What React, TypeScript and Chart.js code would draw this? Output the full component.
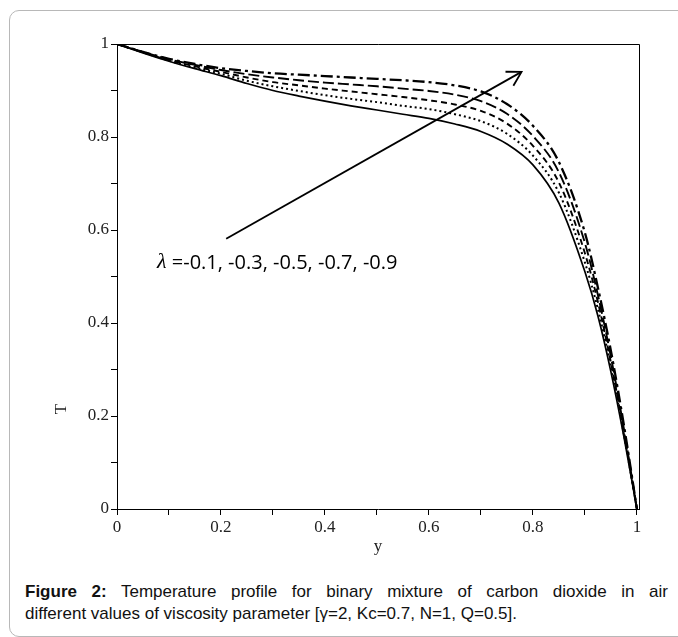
import React, { useEffect, useRef } from "react";
import { Chart, registerables } from "chart.js";

Chart.register(...registerables);

// Position along channel (y) and temperature profiles T for each λ
const yValues = [0, 0.05, 0.1, 0.15, 0.2, 0.25, 0.3, 0.35, 0.4, 0.45, 0.5, 0.55, 0.6, 0.65, 0.7, 0.75, 0.8, 0.85, 0.9, 0.925, 0.95, 0.975, 1];
const lambdaLabels = ["λ=-0.1", "λ=-0.3", "λ=-0.5", "λ=-0.7", "λ=-0.9"];
const tLambda01 = [1, 0.981, 0.963, 0.947, 0.932, 0.915, 0.9, 0.888, 0.877, 0.867, 0.858, 0.849, 0.84, 0.828, 0.812, 0.785, 0.74, 0.658, 0.51, 0.415, 0.295, 0.155, 0];
const tLambda03 = [1, 0.982, 0.964, 0.949, 0.936, 0.921, 0.909, 0.899, 0.89, 0.882, 0.875, 0.867, 0.86, 0.849, 0.834, 0.807, 0.76, 0.68, 0.53, 0.43, 0.305, 0.16, 0];
const tLambda05 = [1, 0.982, 0.965, 0.952, 0.94, 0.928, 0.918, 0.911, 0.904, 0.898, 0.892, 0.886, 0.879, 0.87, 0.856, 0.829, 0.781, 0.702, 0.55, 0.445, 0.315, 0.165, 0];
const tLambda07 = [1, 0.983, 0.967, 0.955, 0.944, 0.935, 0.928, 0.922, 0.917, 0.913, 0.909, 0.904, 0.899, 0.891, 0.877, 0.85, 0.802, 0.724, 0.572, 0.46, 0.327, 0.172, 0];
const tLambda09 = [1, 0.983, 0.968, 0.957, 0.948, 0.942, 0.937, 0.934, 0.931, 0.928, 0.925, 0.922, 0.918, 0.911, 0.898, 0.871, 0.824, 0.746, 0.594, 0.476, 0.34, 0.18, 0];

const xTickValues = [0, 0.1, 0.2, 0.3, 0.4, 0.5, 0.6, 0.7, 0.8, 0.9, 1];
const xTickLabels = ["0", "", "0.2", "", "0.4", "", "0.6", "", "0.8", "", "1"];
const yTickValues = [0, 0.1, 0.2, 0.3, 0.4, 0.5, 0.6, 0.7, 0.8, 0.9, 1];
const yTickLabels = ["0", "", "0.2", "", "0.4", "", "0.6", "", "0.8", "", "1"];

const xTitle = "y";
const yTitle = "T";
const annotationLambda = "λ";
const annotationText = " =-0.1, -0.3, -0.5, -0.7, -0.9";
const arrowFrom = [0.21, 0.581];
const arrowTo = [0.778, 0.94];
const annotationAt = [0.077, 0.531];
const yTitleAt = 0.215;

const captionBold = "Figure 2:";
const captionLine1 = " Temperature profile for binary mixture of carbon dioxide in air";
const captionLine2 = "different values of viscosity parameter [γ=2, Kc=0.7, N=1, Q=0.5].";

const seriesValues = [tLambda01, tLambda03, tLambda05, tLambda07, tLambda09];
const seriesDash = [[], [2, 3], [6, 4], [11, 4], [12, 4, 3, 4]];
const seriesWidth = [1.7, 2, 1.9, 1.9, 2.3];

const TICK_FONT = { family: "'Liberation Serif', 'Times New Roman', serif", size: 17 };
const TEXT_COLOR = "#222";

const overlayPlugin = {
  id: "overlay",
  afterDraw(chart: any) {
    const { ctx, chartArea, scales } = chart;
    const xs = scales.x;
    const ys = scales.y;
    ctx.save();
    // frame top & right
    ctx.strokeStyle = "#000";
    ctx.lineWidth = 1;
    ctx.beginPath();
    ctx.moveTo(chartArea.left, chartArea.top + 0.5);
    ctx.lineTo(chartArea.right + 0.5, chartArea.top + 0.5);
    ctx.lineTo(chartArea.right + 0.5, chartArea.bottom);
    ctx.stroke();

    // arrow
    const x1 = xs.getPixelForValue(arrowFrom[0]);
    const y1 = ys.getPixelForValue(arrowFrom[1]);
    const x2 = xs.getPixelForValue(arrowTo[0]);
    const y2 = ys.getPixelForValue(arrowTo[1]);
    ctx.lineWidth = 1.8;
    ctx.beginPath();
    ctx.moveTo(x1, y1);
    ctx.lineTo(x2, y2);
    ctx.stroke();
    const ang = Math.atan2(y1 - y2, x1 - x2);
    const len = 16;
    ctx.beginPath();
    ctx.moveTo(x2 + len * Math.cos(ang + Math.PI / 6), y2 + len * Math.sin(ang + Math.PI / 6));
    ctx.lineTo(x2, y2);
    ctx.lineTo(x2 + len * Math.cos(ang - Math.PI / 6), y2 + len * Math.sin(ang - Math.PI / 6));
    ctx.stroke();

    // annotation text
    const tx = xs.getPixelForValue(annotationAt[0]);
    const ty = ys.getPixelForValue(annotationAt[1]);
    ctx.fillStyle = "#000";
    ctx.textBaseline = "middle";
    ctx.textAlign = "left";
    ctx.font = "italic 22px 'Liberation Serif', serif";
    ctx.fillText(annotationLambda, tx, ty);
    const lw = ctx.measureText(annotationLambda).width;
    ctx.font = "20px 'Open Sans', sans-serif";
    ctx.fillText(annotationText, tx + lw, ty + 1);

    // axis titles
    ctx.fillStyle = TEXT_COLOR;
    ctx.font = "17px 'Liberation Serif', serif";
    ctx.textAlign = "center";
    ctx.fillText(xTitle, (chartArea.left + chartArea.right) / 2, chartArea.bottom + 38);
    ctx.save();
    ctx.translate(chartArea.left - 55, ys.getPixelForValue(yTitleAt));
    ctx.rotate(-Math.PI / 2);
    ctx.fillText(yTitle, 0, 0);
    ctx.restore();
    ctx.restore();
  },
};

export default function App() {
  const ref = useRef<HTMLCanvasElement | null>(null);

  useEffect(() => {
    if (!ref.current) return;
    const datasets = seriesValues.map((vals, i) => ({
      label: lambdaLabels[i],
      data: vals.map((v, j) => ({ x: yValues[j], y: v })),
      borderColor: "#000",
      borderWidth: seriesWidth[i],
      borderDash: seriesDash[i],
      pointRadius: 0,
      fill: false,
      cubicInterpolationMode: "monotone" as const,
    }));
    const chart = new Chart(ref.current, {
      type: "line",
      data: { datasets },
      options: {
        animation: false,
        responsive: false,
        devicePixelRatio: 1,
        layout: { padding: { left: 57, top: 44, right: 39, bottom: 21 } },
        plugins: { legend: { display: false }, tooltip: { enabled: false } },
        scales: {
          x: {
            type: "linear",
            min: 0,
            max: 1.004,
            afterFit: (s: any) => { s.height = 40; },
            afterBuildTicks: (s: any) => { s.ticks = xTickValues.map((v) => ({ value: v })); },
            grid: { drawOnChartArea: false, drawTicks: true, tickLength: 6, color: "#000" },
            border: { display: true, color: "#000", width: 1 },
            ticks: {
              autoSkip: false,
              maxRotation: 0,
              padding: 2,
              color: TEXT_COLOR,
              font: TICK_FONT,
              callback: (_v: any, i: number) => xTickLabels[i],
            },
          },
          y: {
            type: "linear",
            min: 0,
            max: 1,
            afterFit: (s: any) => { s.width = 60; },
            afterBuildTicks: (s: any) => { s.ticks = yTickValues.map((v) => ({ value: v })); },
            grid: { drawOnChartArea: false, drawTicks: true, tickLength: 6, color: "#000" },
            border: { display: true, color: "#000", width: 1 },
            ticks: {
              autoSkip: false,
              padding: 2,
              color: TEXT_COLOR,
              font: TICK_FONT,
              callback: (_v: any, i: number) => yTickLabels[i],
            },
          },
        },
      },
      plugins: [overlayPlugin],
    });
    return () => chart.destroy();
  }, []);

  return (
    <div style={{ position: "fixed", left: 0, top: 0, width: 678, height: 637, overflow: "hidden", background: "#fff" }}>
      <div
        style={{
          position: "absolute",
          left: 9,
          top: 10,
          width: 720,
          height: 625,
          border: "1px solid #b8b8b8",
          borderRadius: 10,
        }}
      />
      <canvas ref={ref} width={678} height={570} style={{ position: "absolute", left: 0, top: 0, width: 678, height: 570 }} />
      <div
        style={{
          position: "absolute",
          left: 25,
          top: 581,
          width: 643,
          fontFamily: "'Liberation Sans', Arial, sans-serif",
          fontSize: 17,
          lineHeight: "22px",
          color: "#111",
        }}
      >
        <div style={{ textAlign: "justify", textAlignLast: "justify", whiteSpace: "nowrap" }}>
          <b>{captionBold}</b>
          {captionLine1}
        </div>
        <div>{captionLine2}</div>
      </div>
    </div>
  );
}
